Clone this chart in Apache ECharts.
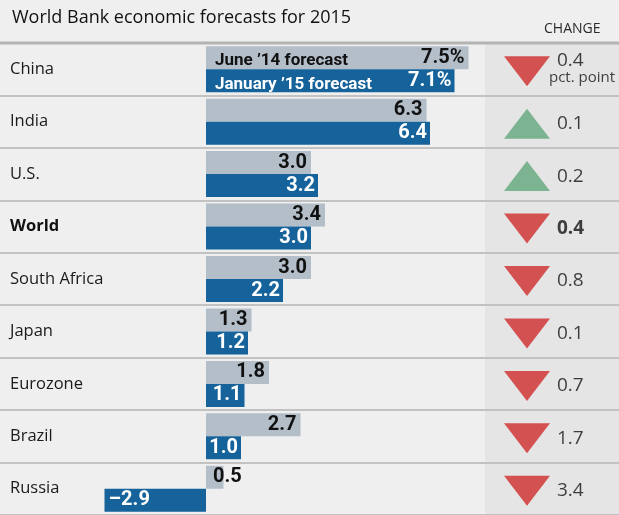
<!DOCTYPE html>
<html>
<head>
<meta charset="utf-8">
<script src="https://cdn.jsdelivr.net/npm/echarts@6/dist/echarts.min.js"></script>
<style>
html,body{margin:0;padding:0;background:#efefef;}
#chart{width:619px;height:515px;}
</style>
</head>
<body>
<div id="chart"></div>
<script>
// ---- data ----
const countries = ['China', 'India', 'U.S.', 'World', 'South Africa', 'Japan', 'Eurozone', 'Brazil', 'Russia'];
const june14 = [7.5, 6.3, 3.0, 3.4, 3.0, 1.3, 1.8, 2.7, 0.5];
const jan15 = [7.1, 6.4, 3.2, 3.0, 2.2, 1.2, 1.1, 1.0, -2.9];
const change = [-0.4, 0.1, 0.2, -0.4, -0.8, -0.1, -0.7, -1.7, -3.4];
const seriesNames = ['June ’14 forecast', 'January ’15 forecast'];
const titleText = 'World Bank economic forecasts for 2015';
const changeHeader = 'CHANGE';
const changeUnit = 'pct. point';

// ---- styling ----
const FONT = '"Open Sans", "Noto Sans", sans-serif';
const BOLDF = 'Roboto, "Open Sans", sans-serif';
const GRAY = '#b3bec9';
const BLUE = '#15639a';
const RED = '#cf2c2c';
const GREEN = '#62a67a';
const ROW_TOP = 43;
const ROW_H = 53.2;
const PLOT_H = ROW_H * countries.length;

function fmt(v, i) {
  let s = Math.abs(v).toFixed(1);
  if (v < 0) s = '–' + s;
  if (i === 0) s += '%';
  return s;
}

const grayData = june14.map((v, i) => ({
  value: v,
  label: v < 1 ? { position: 'insideLeft', distance: 7 } : undefined
}));
const blueData = jan15.map((v, i) => ({
  value: v,
  label: v < 0 ? { position: 'insideLeft', distance: 4 } : undefined
}));

const changeData = change.map((v, i) => {
  const up = v > 0;
  const item = {
    value: [changeHeader, countries[i]],
    symbolRotate: up ? 0 : 180,
    itemStyle: { color: up ? GREEN : RED },
    label: {
      formatter: countries[i] === 'World' ? '{b|' + Math.abs(v).toFixed(1) + '}' : Math.abs(v).toFixed(1)
    }
  };
  if (i === 0) {
    item.label = {
      formatter: '{v|' + Math.abs(v).toFixed(1) + '}\n{p|' + changeUnit + '}',
      distance: -1,
      offset: [0, -2]
    };
  }
  return item;
});

const chart = echarts.init(document.getElementById('chart'), null, { renderer: 'canvas' });
chart.setOption({
  backgroundColor: '#efefef',
  animation: false,
  title: [
    { text: titleText, left: 7, top: 4,
      textStyle: { fontFamily: FONT, fontSize: 18, fontWeight: 'normal', color: '#111' } },
    { text: changeHeader, left: 539, top: 17,
      textStyle: { fontFamily: FONT, fontSize: 14, fontWeight: 'normal', color: '#2a2a2a' } }
  ],
  graphic: [
    { type: 'rect', z: -10, silent: true,
      shape: { x: 485, y: ROW_TOP, width: 134, height: 515 - ROW_TOP },
      style: { fill: '#e5e5e5' } },
    { type: 'line', z: 10, silent: true,
      shape: { x1: 0, y1: ROW_TOP, x2: 619, y2: ROW_TOP },
      style: { stroke: '#b4b4b4', lineWidth: 3 } }
  ],
  legend: {
    data: [
      { name: seriesNames[0], textStyle: { color: '#111' } },
      { name: seriesNames[1], textStyle: { color: '#fff' } }
    ],
    orient: 'vertical',
    left: 210, top: 51, padding: 0,
    itemGap: 5, itemWidth: 0, itemHeight: 20,
    icon: 'none',
    selectedMode: false,
    textStyle: { fontFamily: BOLDF, fontSize: 17, fontWeight: 'bold' }
  },
  grid: [
    { left: 101, width: 385, top: ROW_TOP, height: PLOT_H },
    { left: 0, right: 0, top: ROW_TOP, height: PLOT_H },
    { left: 504, width: 46, top: ROW_TOP, height: PLOT_H }
  ],
  xAxis: [
    { gridIndex: 0, type: 'value', min: -3, max: 8, show: false },
    { gridIndex: 1, type: 'value', min: 0, max: 1, show: false },
    { gridIndex: 2, type: 'category', data: [changeHeader], show: false }
  ],
  yAxis: [
    { gridIndex: 0, type: 'category', data: countries, inverse: true,
      axisLine: { show: false }, axisTick: { show: false }, splitLine: { show: false },
      axisLabel: {
        align: 'left', margin: 91, fontFamily: FONT, fontSize: 16.5, color: '#1a1a1a',
        formatter: v => v === 'World' ? '{b|' + v + '}' : v,
        rich: { b: { fontFamily: FONT, fontSize: 16.5, fontWeight: 'bold', color: '#111' } }
      } },
    { gridIndex: 1, type: 'category', data: countries, inverse: true,
      axisLine: { show: false }, axisTick: { show: false }, axisLabel: { show: false },
      splitLine: { show: true, lineStyle: { color: '#c2c2c2', width: 2 } } },
    { gridIndex: 2, type: 'category', data: countries, inverse: true, show: false }
  ],
  series: [
    {
      name: seriesNames[0], type: 'bar', xAxisIndex: 0, yAxisIndex: 0,
      data: grayData, barWidth: 23, barGap: '0%',
      itemStyle: { color: GRAY },
      label: {
        show: true, position: 'insideRight', distance: 4,
        fontFamily: BOLDF, fontSize: 20, fontWeight: 'bold', color: '#111',
        formatter: p => fmt(p.value, p.dataIndex)
      }
    },
    {
      name: seriesNames[1], type: 'bar', xAxisIndex: 0, yAxisIndex: 0,
      data: blueData, barWidth: 23, barGap: '0%',
      itemStyle: { color: BLUE },
      label: {
        show: true, position: 'insideRight', distance: 3,
        fontFamily: BOLDF, fontSize: 20, fontWeight: 'bold', color: '#fff',
        formatter: p => fmt(p.value, p.dataIndex)
      }
    },
    {
      name: 'change', type: 'scatter', xAxisIndex: 2, yAxisIndex: 2,
      data: changeData,
      symbol: 'triangle', symbolSize: [46, 30], symbolOffset: [0, 2],
      label: {
        show: true, position: 'right', distance: 7,
        fontFamily: FONT, fontSize: 19, color: '#111',
        rich: {
          b: { fontFamily: FONT, fontSize: 19, fontWeight: 'bold', color: '#111' },
          v: { fontFamily: FONT, fontSize: 19, color: '#111', padding: [0, 0, 0, 8], lineHeight: 17 },
          p: { fontFamily: FONT, fontSize: 15, color: '#111', lineHeight: 17 }
        }
      }
    }
  ]
});
</script>
</body>
</html>
